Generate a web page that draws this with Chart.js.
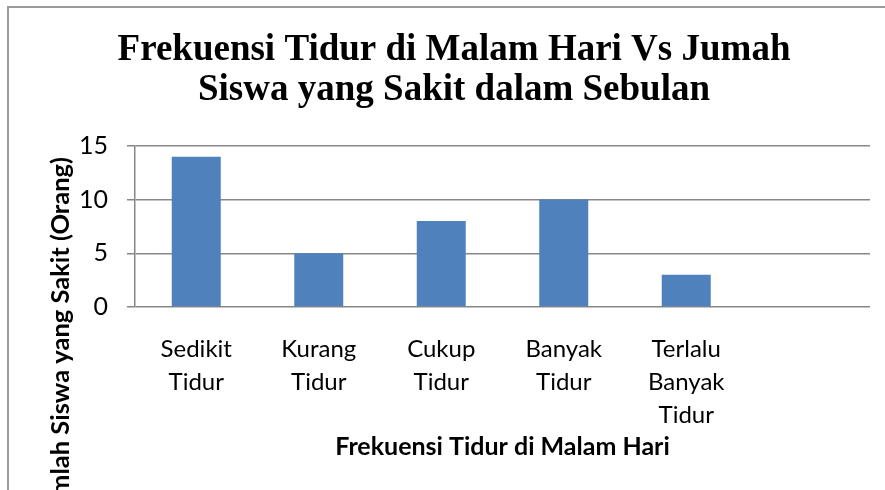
<!DOCTYPE html>
<html>
<head>
<meta charset="utf-8">
<script src="https://cdn.jsdelivr.net/npm/chart.js@4.4.1/dist/chart.umd.min.js"></script>
<style>
  html, body { margin: 0; padding: 0; background: #fff; }
  #frame {
    position: absolute; left: 7px; top: 6px;
    width: 878px; height: 484px;
    border-top: 2px solid #9a9a9a; border-left: 2px solid #9a9a9a;
  }
  #chart { display: block; }
</style>
</head>
<body>
<div id="frame"><canvas id="chart" width="876" height="482"></canvas></div>
<script>
// chart data
const categories = [
  ['Sedikit', 'Tidur'],
  ['Kurang', 'Tidur'],
  ['Cukup', 'Tidur'],
  ['Banyak', 'Tidur'],
  ['Terlalu', 'Banyak', 'Tidur'],
  ''
];
const siswaSakit = [14, 5, 8, 10, 3, null];
const yTicks = [0, 5, 10, 15];

const chartTitle = ['Frekuensi Tidur di Malam Hari Vs Jumah', 'Siswa yang Sakit dalam Sebulan'];
const xTitle = 'Frekuensi Tidur di Malam Hari';
const yTitle = 'Jumlah Siswa yang Sakit (Orang)';

const gridColor = '#878787';

// y title is drawn by hand: it sits off-centre and runs past the bottom edge
const yTitlePlugin = {
  id: 'yTitle',
  afterDraw(chart) {
    const ctx = chart.ctx;
    ctx.save();
    ctx.font = 'bold 25.5px Lato';
    ctx.fillStyle = '#000';
    ctx.translate(60, 149);
    ctx.rotate(-Math.PI / 2);
    ctx.textAlign = 'right';
    ctx.textBaseline = 'alphabetic';
    ctx.fillText(yTitle, 0, 0);
    ctx.restore();
  }
};

new Chart(document.getElementById('chart').getContext('2d'), {
  type: 'bar',
  data: {
    labels: categories,
    datasets: [
      {
        label: 'Jumlah Siswa',
        data: siswaSakit,
        backgroundColor: '#4f81bd',
        barPercentage: 0.4,
        categoryPercentage: 1
      }
    ]
  },
  options: {
    responsive: false,
    animation: false,
    layout: { padding: { top: 0, left: 29, right: 15, bottom: 0 } },
    plugins: {
      legend: { display: false },
      tooltip: { enabled: false },
      title: {
        display: true,
        text: chartTitle,
        color: '#000',
        font: { family: 'Liberation Serif', size: 37, weight: 'bold', lineHeight: 1.08 },
        padding: { top: 22.5, bottom: 35.5 }
      }
    },
    scales: {
      x: {
        grid: { display: false },
        border: { display: false },
        ticks: {
          color: '#000',
          font: { family: 'Lato', size: 24, lineHeight: 1.375 },
          padding: 18,
          maxRotation: 0,
          autoSkip: false
        },
        title: {
          display: true,
          text: xTitle,
          color: '#000',
          font: { family: 'Lato', size: 25, weight: 'bold', lineHeight: 1.2 },
          padding: { top: 0, bottom: 28 }
        },
        afterFit: (s) => { s.height = 183; }
      },
      y: {
        min: yTicks[0],
        max: yTicks[yTicks.length - 1],
        ticks: {
          stepSize: yTicks[1] - yTicks[0],
          color: '#000',
          font: { family: 'Lato', size: 25 },
          padding: 19
        },
        grid: { color: gridColor, lineWidth: 1.5, tickLength: 8 },
        border: { display: true, color: gridColor, width: 1.5 },
        afterFit: (s) => { s.width = 97; }
      }
    }
  },
  plugins: [yTitlePlugin]
});
</script>
</body>
</html>
